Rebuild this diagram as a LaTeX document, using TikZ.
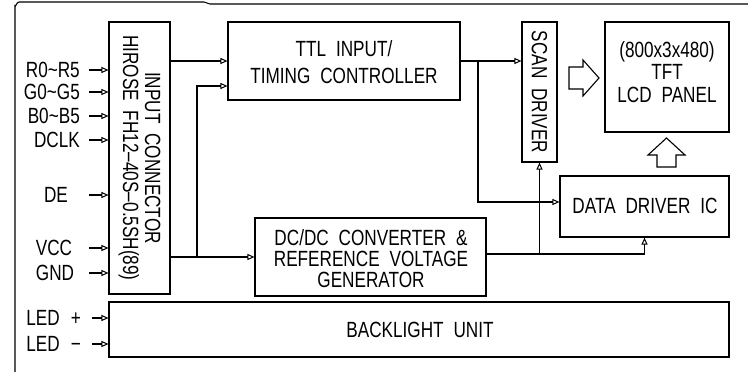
\documentclass[tikz,border=0pt]{standalone}
\usepackage{fontspec}
\setmainfont{Liberation Sans}[FakeStretch=0.78]
\usetikzlibrary{arrows.meta,calc}
\newcommand{\gp}{\hspace{0.45em}}
\tikzset{
  box/.style={draw, line width=1.1pt, inner sep=0pt, fill=white},
  sig/.style={line width=1.1pt, -{Triangle[open,length=7pt,width=6pt,line width=1pt]}},
  wire/.style={line width=1.1pt},
  txt/.style={inner sep=0pt, font=\fontsize{22}{22}\selectfont, align=center},
  hollow/.style={line width=1.1pt, fill=white, line join=miter},
}
\begin{document}
\begin{tikzpicture}[x=1pt,y=-1pt]
\useasboundingbox (0,0) rectangle (748,372);
% frame
\draw[wire] (15,372) -- (15,6) to[out=-90,in=180] (19,2) -- (204,2) to[out=0,in=180] (210,4) -- (748,4);

% boxes
\node[box, minimum width=61, minimum height=272] (conn) at (139.5,158) {};
\node[box, minimum width=232, minimum height=78] (ttl) at (344,61) {};
\node[box, minimum width=35, minimum height=140] (scan) at (539.5,92) {};
\node[box, minimum width=124, minimum height=110] (tft) at (667,77) {};
\node[box, minimum width=169, minimum height=61] (dd) at (644.5,206.5) {};
\node[box, minimum width=231, minimum height=78] (dcdc) at (370.5,257) {};
\node[box, minimum width=620, minimum height=55] (bl) at (419,329.5) {};

% box texts
\node[txt, rotate=-90, font=\fontsize{22}{22}\selectfont] (conntxt) at (139.5,158) {INPUT\gp CONNECTOR\\HIROSE\gp FH12–40S–0.5SH(89)};
\node[txt, font=\fontsize{22}{27}\selectfont] (ttltxt) at (344,62) {TTL\gp INPUT/\\TIMING\gp CONTROLLER};
\node[txt, rotate=-90] (scantxt) at (539.5,92) {SCAN\gp DRIVER};
\node[txt, font=\fontsize{22}{22.5}\selectfont] (tfttxt) at (667,72) {(800x3x480)\\TFT\\LCD\gp PANEL};
\node[txt] (ddtxt) at (645,206) {DATA\gp DRIVER\gp IC};
\node[txt, font=\fontsize{22}{21}\selectfont] (dcdctxt) at (371,259) {DC/DC\gp CONVERTER\gp \&\\REFERENCE\gp VOLTAGE\\GENERATOR};
\node[txt] (bltxt) at (420,330) {BACKLIGHT\gp UNIT};

% input labels
\node[txt, anchor=east] (r) at (80,70) {R0\char`~R5};
\node[txt, anchor=east] (g) at (80,92) {G0\char`~G5};
\node[txt, anchor=east] (b) at (80,116) {B0\char`~B5};
\node[txt, anchor=east] (dclk) at (80,140) {DCLK};
\node[txt] (de) at (56,195) {DE};
\node[txt] (vcc) at (54,248) {VCC};
\node[txt] (gnd) at (55,273) {GND};
\node[txt] (led1) at (43,318) {LED};
\node[txt, anchor=base] (plus) at (76,325.5) {+};
\node[txt] (led2) at (43,344) {LED};
\node[txt, anchor=base] (minus) at (76,351.5) {−};

% input arrows
\foreach \n/\y in {r/70, g/92, b/116, dclk/140, de/195, vcc/248, gnd/273}{
  \coordinate (s\n) at (89,\y);
  \draw[sig] (s\n) -- (conn.west |- s\n);
}
\coordinate (sled1) at (92,318);
\coordinate (sled2) at (92,344);
\draw[sig] (sled1) -- (bl.west |- sled1);
\draw[sig] (sled2) -- (bl.west |- sled2);

% internal connections
\coordinate (y202) at (0,202);
\coordinate (y254) at (0,254);
\coordinate (y86) at (0,86);
\coordinate (j1) at (197,257);
\coordinate (j2) at (478,61);
\draw[sig] (conn.east |- ttl.west) -- (ttl.west);
\draw[sig] (conn.east |- dcdc.west) -- (dcdc.west);
\draw[sig] (j1) |- (ttl.west |- y86);
\draw[sig] (ttl.east) -- (scan.west |- ttl.east);
\draw[sig] (j2) |- (dd.west |- y202);
\draw[sig] (dcdc.east |- y254) -| (dd.south);
\draw[sig] (scan.south |- y254) -- (scan.south);

% hollow arrows
\draw[hollow] (569,67) -- (583,67) -- (583,60) -- (599,78) -- (583,96) -- (583,89) -- (569,89) -- cycle;
\draw[hollow] (657,167) -- (657,155) -- (648,155) -- (666.5,138) -- (685,155) -- (676,155) -- (676,167) -- cycle;
\end{tikzpicture}
\end{document}
